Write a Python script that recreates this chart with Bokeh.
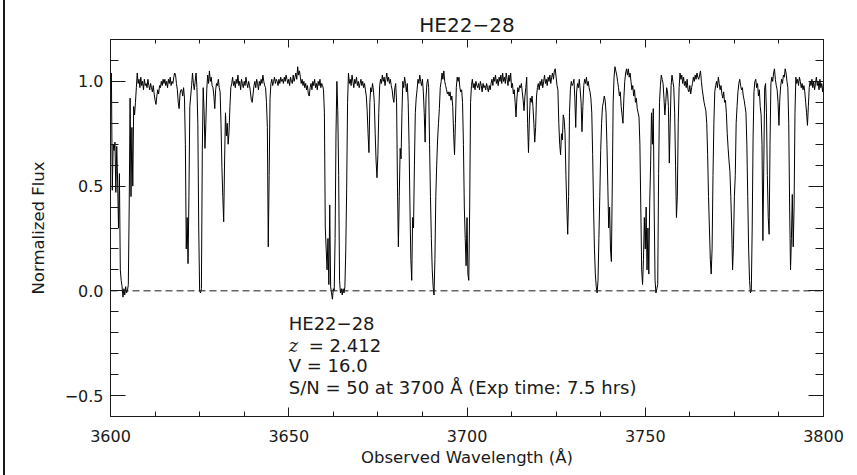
import numpy as np
from bokeh.plotting import figure
from bokeh.models import (LinearAxis, SingleIntervalTicker, Span, Label,
                          CustomJSTickFormatter, Range1d)
from bokeh.embed import file_html
from bokeh.resources import INLINE

# ---------------- data ----------------
title_text = "HE22\u221228"
x_label = "Observed Wavelength (\u00c5)"
y_label = "Normalized Flux"
x_limits = [3600, 3800]
y_limits = [-0.6, 1.2]
x_major_step = 50
y_major_step = 0.5

annot_name = "HE22\u221228"
annot_z_symbol = "z"
annot_z_value = "= 2.412"
annot_v = "V = 16.0"
annot_sn = "S/N = 50 at 3700 \u00c5 (Exp time: 7.5 hrs)"

wave_start = 3600.0
wave_step = 0.25
# normalized flux in percent, one row = 5 Angstrom (20 samples)
flux_pct = [
    100, 104, 48, 70, 67, 71, 47, 69, 52, 30, 56, 10, 5, 2, -3, 1, -2, 2, -1, 0,          # 3600
    3, 41, 92, 45, 78, 50, 88, 84, 90, 97, 104, 99, 101, 97, 102, 98, 100, 96, 101, 98,   # 3605
    99, 97, 101, 98, 96, 99, 97, 95, 98, 94, 91, 89, 93, 96, 94, 98, 97, 100, 98, 101,    # 3610
    99, 101, 98, 100, 97, 101, 99, 102, 98, 100, 99, 102, 104, 103, 99, 96, 90, 87, 94, 96,  # 3615
    96, 93, 97, 92, 70, 20, 35, 13, 45, 88, 93, 98, 104, 99, 96, 100, 104, 97, 80, 30,    # 3620
    0, -1, 1, 67, 97, 86, 68, 80, 96, 103, 99, 105, 100, 102, 98, 97, 93, 87, 96, 99,     # 3625
    98, 101, 97, 95, 80, 59, 45, 33, 62, 85, 74, 80, 70, 76, 88, 97, 99, 102, 98, 100,    # 3630
    97, 101, 99, 103, 98, 100, 96, 101, 99, 97, 100, 98, 102, 99, 97, 100, 98, 95, 91, 90,  # 3635
    94, 98, 100, 97, 101, 99, 96, 100, 98, 101, 99, 103, 100, 98, 97, 90, 78, 21, 55, 92,  # 3640
    99, 101, 98, 100, 102, 99, 101, 100, 98, 101, 99, 102, 100, 101, 99, 102, 100, 103, 101, 99,  # 3645
    101, 98, 102, 100, 99, 103, 100, 102, 104, 101, 107, 103, 105, 102, 99, 101, 98, 100, 97, 99,  # 3650
    96, 98, 94, 93, 97, 99, 96, 100, 98, 101, 97, 99, 96, 100, 98, 101, 97, 99, 98, 96,   # 3655
    85, 30, 20, 10, 25, 3, 41, 2, -1, -4, 1, 0, 25, 75, 100, 86, 55, 5, -1, 1,            # 3660
    -2, 1, -1, 2, 20, 49, 90, 104, 99, 101, 98, 103, 100, 97, 101, 99, 102, 98, 100, 97,  # 3665
    99, 101, 98, 100, 97, 99, 96, 93, 86, 75, 66, 90, 97, 95, 99, 96, 90, 75, 62, 54,     # 3670
    65, 85, 98, 101, 99, 103, 100, 102, 98, 101, 104, 100, 102, 99, 101, 98, 96, 92, 90, 97,  # 3675
    99, 90, 50, 21, 45, 68, 63, 85, 100, 97, 102, 99, 95, 99, 90, 70, 40, 15, 5, 35,      # 3680
    30, 60, 85, 92, 96, 101, 99, 103, 100, 98, 101, 95, 85, 71, 92, 99, 101, 97, 70, 45,  # 3685
    25, 10, 2, -2, 15, 45, 60, 72, 80, 87, 97, 100, 104, 101, 105, 100, 98, 96, 94, 95,   # 3690
    93, 95, 91, 93, 88, 75, 65, 80, 97, 102, 100, 102, 97, 95, 96, 90, 70, 40, 25, 12,    # 3695
    35, 8, 5, 40, 90, 98, 101, 97, 99, 96, 100, 98, 97, 99, 96, 100, 98, 95, 99, 97,      # 3700
    98, 96, 99, 97, 95, 98, 96, 99, 101, 98, 102, 100, 103, 99, 101, 98, 102, 100, 103, 99,  # 3705
    104, 100, 102, 99, 104, 101, 98, 103, 100, 104, 97, 99, 94, 96, 90, 83, 92, 97, 95, 98,  # 3710
    97, 99, 95, 91, 86, 93, 97, 102, 80, 66, 82, 92, 90, 93, 88, 80, 71, 78, 93, 97,      # 3715
    99, 96, 100, 98, 101, 97, 100, 103, 99, 101, 98, 102, 100, 103, 99, 102, 104, 101, 105, 106,  # 3720
    102, 98, 96, 80, 70, 65, 75, 72, 84, 82, 75, 55, 40, 27, 45, 85, 96, 100, 98, 99,     # 3725
    101, 92, 78, 95, 99, 97, 101, 96, 90, 76, 88, 98, 101, 99, 102, 98, 100, 97, 95, 92,  # 3730
    85, 65, 40, 20, 8, 2, -1, 5, 25, 45, 67, 80, 88, 90, 93, 91, 85, 70, 50, 30,          # 3735
    40, 20, 14, 50, 90, 102, 107, 105, 103, 100, 97, 93, 95, 88, 84, 80, 92, 100, 104, 106,  # 3740
    103, 106, 102, 104, 100, 96, 98, 93, 96, 90, 92, 87, 85, 83, 70, 40, 10, 3, 15, 35,   # 3745
    20, 40, 10, 30, 8, 42, 60, 85, 70, 87, 40, 5, -1, 1, 3, 56, 90, 98, 103, 101,         # 3750
    99, 92, 84, 90, 97, 95, 88, 61, 80, 98, 103, 100, 97, 85, 60, 35, 45, 80, 97, 104,    # 3755
    101, 103, 99, 102, 98, 100, 97, 101, 96, 95, 98, 94, 97, 99, 102, 100, 103, 101, 104, 102,  # 3760
    101, 103, 105, 100, 96, 93, 90, 88, 86, 80, 65, 45, 30, 15, 8, 20, 55, 80, 95, 98,    # 3765
    100, 97, 102, 99, 96, 98, 94, 92, 95, 90, 91, 85, 75, 68, 62, 57, 45, 30, 10, 22,     # 3770
    45, 55, 80, 88, 95, 99, 101, 98, 96, 97, 93, 91, 88, 85, 70, 45, 20, 5, -1, 0,        # 3775
    30, 73, 95, 100, 101, 97, 99, 93, 96, 88, 84, 70, 24, 60, 97, 99, 85, 55, 35, 27,     # 3780
    70, 99, 102, 100, 104, 106, 101, 98, 96, 90, 79, 92, 98, 101, 99, 103, 102, 106, 104, 100,  # 3785
    97, 80, 40, 10, 25, 46, 21, 40, 85, 102, 99, 101, 98, 102, 100, 97, 99, 96, 98, 95,   # 3790
    90, 85, 79, 88, 97, 100, 98, 101, 97, 100, 96, 99, 102, 98, 100, 96, 101, 97, 99, 95,  # 3795
    99,                                                                                    # 3800
]

wave = wave_start + wave_step * np.arange(len(flux_pct))
flux = np.array(flux_pct, dtype=float) / 100.0

# ---------------- figure ----------------
FONT = "DejaVu Sans"
INK = "#1a1a1a"

p = figure(width=852, height=475, output_backend="svg", toolbar_location=None,
           x_range=Range1d(*x_limits), y_range=Range1d(*y_limits),
           min_border_left=105, min_border_right=34,
           min_border_top=39, min_border_bottom=59)
# the page edge line at the far left of the picture
p.styles = {"margin-left": "3px", "border-left": "2px solid #1a1a1a"}
p.background_fill_color = "white"
p.border_fill_color = "white"
p.grid.visible = False
p.outline_line_color = INK
p.outline_line_width = 1

p.title.text = title_text
p.title.align = "center"
p.title.text_font = FONT
p.title.text_font_size = "20px"
p.title.text_font_style = "normal"
p.title.text_color = INK
p.title.standoff = 6

xt = SingleIntervalTicker(interval=x_major_step, num_minor_ticks=4)
yt = SingleIntervalTicker(interval=y_major_step, num_minor_ticks=5)

yfmt = CustomJSTickFormatter(code="return tick.toFixed(1).replace('-', '\\u2212');")


def style_axis(ax, major_in, minor_in, show_labels):
    ax.axis_line_color = None
    ax.major_tick_line_color = INK
    ax.minor_tick_line_color = INK
    ax.major_tick_in = major_in
    ax.major_tick_out = 0
    ax.minor_tick_in = minor_in
    ax.minor_tick_out = 0
    ax.major_label_text_font = FONT
    ax.major_label_text_color = INK
    ax.axis_label_text_font = FONT
    ax.axis_label_text_color = INK
    ax.axis_label_text_font_style = "normal"
    if not show_labels:
        ax.major_label_text_font_size = "0px"
        ax.major_label_text_color = None
        ax.major_label_standoff = 0


bx = p.xaxis[0]
bx.ticker = xt
style_axis(bx, 9, 5, True)
bx.major_label_text_font_size = "16px"
bx.major_label_standoff = 13
bx.axis_label = x_label
bx.axis_label_text_font_size = "16.5px"
bx.axis_label_standoff = 3

ly = p.yaxis[0]
ly.ticker = yt
ly.formatter = yfmt
style_axis(ly, 15, 8, True)
ly.major_label_text_font_size = "16px"
ly.major_label_standoff = 7
ly.axis_label = y_label
ly.axis_label_text_font_size = "16.5px"
ly.axis_label_standoff = 14

top_ax = LinearAxis(ticker=xt)
style_axis(top_ax, 8, 4, False)
p.add_layout(top_ax, "above")

right_ax = LinearAxis(ticker=yt)
style_axis(right_ax, 15, 8, False)
p.add_layout(right_ax, "right")

# spectrum
p.line(wave, flux, line_color="black", line_width=1)

# zero level
p.add_layout(Span(location=0, dimension="width", line_color=INK,
                  line_width=1, line_dash="7 4"))

# annotation block
ax0 = 3650
ann_y = [-0.157, -0.262, -0.358, -0.462]
common = dict(text_font=FONT, text_font_size="18px", text_color=INK,
              text_baseline="alphabetic", text_align="left")
p.add_layout(Label(x=ax0, y=ann_y[0], text=annot_name, **common))
p.add_layout(Label(x=ax0, y=ann_y[1], text=annot_z_symbol,
                   text_font="DejaVu Serif", text_font_size="18px",
                   text_font_style="italic", text_color=INK,
                   text_baseline="alphabetic", text_align="left"))
p.add_layout(Label(x=ax0, y=ann_y[1], x_offset=20, text=annot_z_value, **common))
p.add_layout(Label(x=ax0, y=ann_y[2], text=annot_v, **common))
p.add_layout(Label(x=ax0, y=ann_y[3], text=annot_sn, **common))

open("out.html", "w").write(file_html(p, INLINE))
